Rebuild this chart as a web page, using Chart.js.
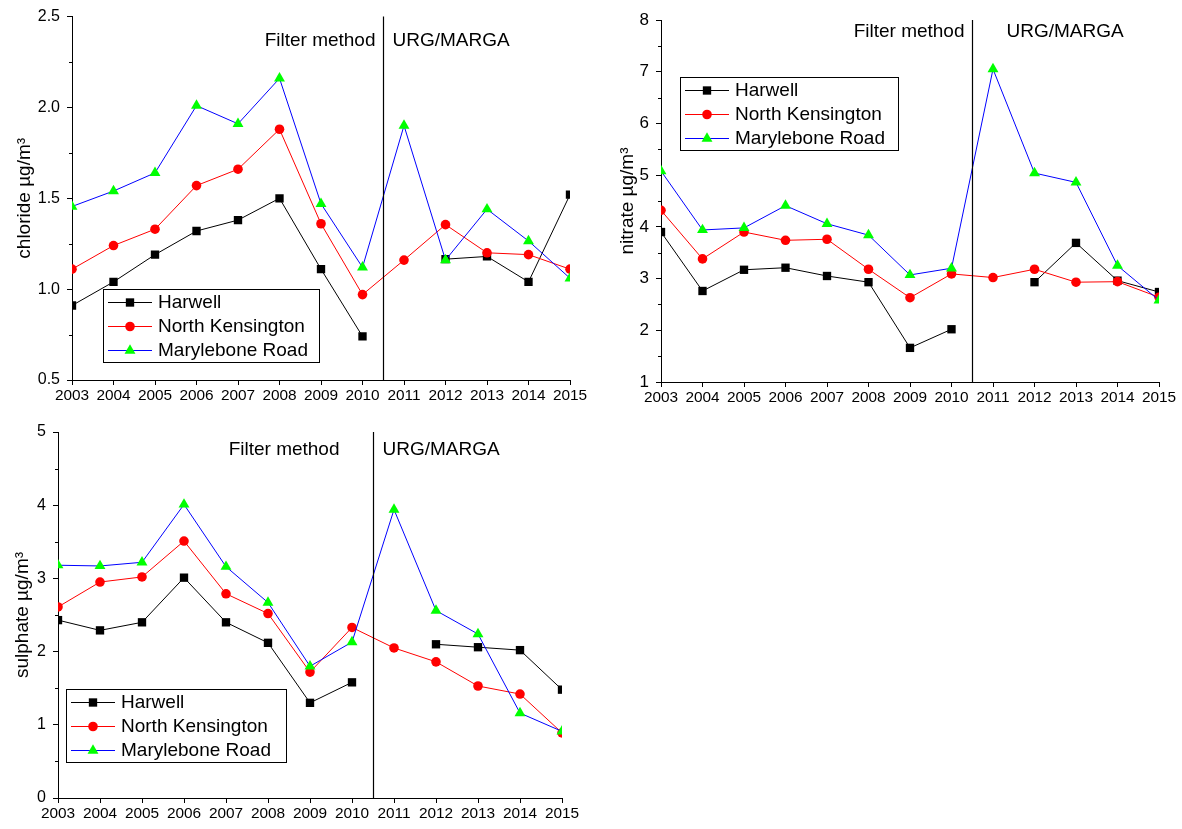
<!DOCTYPE html>
<html>
<head>
<meta charset="utf-8">
<script src="https://cdn.jsdelivr.net/npm/chart.js@4.4.1/dist/chart.umd.min.js"></script>
<style>
    body { margin: 0; background: #fff; width: 1182px; height: 829px; position: relative; overflow: hidden; }
    canvas { position: absolute; }
</style>
</head>
<body>
<canvas id="chloride-chart" width="600" height="410" style="left:0;top:0"></canvas>
<canvas id="nitrate-chart" width="582" height="410" style="left:600px;top:0"></canvas>
<canvas id="sulphate-chart" width="600" height="419" style="left:0;top:410px"></canvas>
<script>
// Anos e séries
const years = ['2003', '2004', '2005', '2006', '2007', '2008', '2009', '2010', '2011', '2012', '2013', '2014', '2015'];
const siteNames = ['Harwell', 'North Kensington', 'Marylebone Road'];
const splitIndex = 7.5; // troca de método entre 2010 e 2011

const chlorideHarwell = [0.91, 1.04, 1.19, 1.32, 1.38, 1.50, 1.11, 0.74, null, 1.165, 1.18, 1.04, 1.52];
const chlorideNK      = [1.11, 1.24, 1.33, 1.57, 1.66, 1.88, 1.36, 0.97, 1.16, 1.355, 1.20, 1.19, 1.11];
const chlorideMR      = [1.455, 1.54, 1.64, 2.01, 1.91, 2.16, 1.47, 1.12, 1.90, 1.16, 1.44, 1.265, 1.06];

const nitrateHarwell = [3.90, 2.76, 3.17, 3.21, 3.05, 2.93, 1.66, 2.02, null, 2.93, 3.69, 2.96, 2.74];
const nitrateNK      = [4.32, 3.38, 3.90, 3.74, 3.76, 3.18, 2.63, 3.09, 3.02, 3.18, 2.93, 2.94, 2.64];
const nitrateMR      = [5.08, 3.94, 3.98, 4.41, 4.06, 3.84, 3.07, 3.20, 7.05, 5.04, 4.86, 3.25, 2.58];

const sulphateHarwell = [2.43, 2.29, 2.40, 3.01, 2.40, 2.12, 1.30, 1.58, null, 2.10, 2.06, 2.02, 1.48];
const sulphateNK      = [2.61, 2.95, 3.02, 3.51, 2.79, 2.52, 1.72, 2.33, 2.05, 1.86, 1.53, 1.42, 0.89];
const sulphateMR      = [3.18, 3.17, 3.22, 4.01, 3.16, 2.67, 1.80, 2.13, 3.94, 2.56, 2.24, 1.16, 0.91];

const FONT = '"Liberation Sans", Arial, sans-serif';
Chart.defaults.font.family = FONT;
Chart.defaults.color = '#000';

// Desenha um marcador igual aos do Chart.js
function drawMarker(ctx, style, x, y, r, color) {
    ctx.fillStyle = color;
    ctx.beginPath();
    if (style === 'rect') {
        const s = r * Math.SQRT1_2;
        ctx.rect(x - s, y - s, 2 * s, 2 * s);
    } else if (style === 'triangle') {
        const dx = r * Math.sin(Math.PI / 3);
        ctx.moveTo(x, y - r);
        ctx.lineTo(x + dx, y + r / 2);
        ctx.lineTo(x - dx, y + r / 2);
        ctx.closePath();
    } else {
        ctx.arc(x, y, r, 0, Math.PI * 2);
    }
    ctx.fill();
}

// Linha vertical e rótulos dos métodos
function methodSplitPlugin(cfg) {
    return {
        id: 'methodSplit',
        afterDatasetsDraw(chart) {
            const { ctx, chartArea, scales } = chart;
            const x = Math.round(scales.x.getPixelForValue(splitIndex)) + 0.5;
            ctx.save();
            ctx.strokeStyle = '#000';
            ctx.lineWidth = 1.2;
            ctx.beginPath();
            ctx.moveTo(x, chartArea.top);
            ctx.lineTo(x, chartArea.bottom);
            ctx.stroke();
            ctx.font = '19px ' + FONT;
            ctx.fillStyle = '#000';
            ctx.textBaseline = 'middle';
            ctx.textAlign = 'right';
            ctx.fillText('Filter method', x - cfg.leftGap, cfg.textY);
            ctx.textAlign = 'left';
            ctx.fillText('URG/MARGA', x + cfg.rightGap, cfg.textY);
            ctx.restore();
        }
    };
}

// Legenda em caixa dentro da área do gráfico
function boxLegendPlugin(box) {
    return {
        id: 'boxLegend',
        afterDraw(chart) {
            const ctx = chart.ctx;
            ctx.save();
            ctx.fillStyle = '#fff';
            ctx.fillRect(box.left, box.top, box.width, box.height);
            ctx.strokeStyle = '#000';
            ctx.lineWidth = 1;
            ctx.strokeRect(box.left + 0.5, box.top + 0.5, box.width, box.height);
            chart.data.datasets.forEach((ds, i) => {
                const y = box.top + 13 + i * 24;
                const x0 = box.left + 5;
                const x1 = x0 + 44;
                ctx.strokeStyle = ds.borderColor;
                ctx.lineWidth = 1;
                ctx.beginPath();
                ctx.moveTo(x0, y + 0.5);
                ctx.lineTo(x1, y + 0.5);
                ctx.stroke();
                drawMarker(ctx, ds.pointStyle, (x0 + x1) / 2, y + 0.5, ds.pointRadius, ds.pointBackgroundColor);
                ctx.fillStyle = '#000';
                ctx.font = '19px ' + FONT;
                ctx.textAlign = 'left';
                ctx.textBaseline = 'middle';
                ctx.fillText(ds.label, box.left + 55, y + 1);
            });
            ctx.restore();
        }
    };
}

// Ticks menores no eixo y
const minorTicksPlugin = {
    id: 'minorTicks',
    afterDraw(chart) {
        const scale = chart.scales.y;
        const ctx = chart.ctx;
        ctx.save();
        ctx.strokeStyle = '#000';
        ctx.lineWidth = 1;
        for (let i = 0; i < scale.ticks.length - 1; i++) {
            const v = (scale.ticks[i].value + scale.ticks[i + 1].value) / 2;
            const y = Math.round(scale.getPixelForValue(v)) + 0.5;
            ctx.beginPath();
            ctx.moveTo(scale.right - 3, y);
            ctx.lineTo(scale.right, y);
            ctx.stroke();
        }
        ctx.restore();
    }
};

function makeDatasets(harwell, nk, mr) {
    const base = { borderWidth: 1, tension: 0, spanGaps: false, pointBorderWidth: 0, clip: 0 };
    return [
        Object.assign({}, base, { label: siteNames[0], data: harwell, borderColor: '#000000', pointStyle: 'rect', pointRadius: 5.9, pointBackgroundColor: '#000000', order: 3 }),
        Object.assign({}, base, { label: siteNames[1], data: nk, borderColor: '#ff0000', pointStyle: 'circle', pointRadius: 4.8, pointBackgroundColor: '#ff0000', order: 2 }),
        Object.assign({}, base, { label: siteNames[2], data: mr, borderColor: '#0000ff', pointStyle: 'triangle', pointRadius: 6.3, pointBackgroundColor: '#00ff00', order: 1 })
    ];
}

function renderPanel(id, opts) {
    const ctx = document.getElementById(id).getContext('2d');
    return new Chart(ctx, {
        type: 'line',
        data: {
            labels: years,
            datasets: makeDatasets(opts.harwell, opts.nk, opts.mr)
        },
        options: {
            responsive: false,
            animation: false,
            devicePixelRatio: 1,
            events: [],
            layout: { padding: { left: 0, top: opts.top, right: opts.right, bottom: 0 } },
            plugins: { legend: { display: false }, tooltip: { enabled: false } },
            scales: {
                x: {
                    grid: { drawOnChartArea: false, color: '#000', tickLength: 5 },
                    border: { color: '#000', width: 1 },
                    ticks: { font: { size: 15.4 }, color: '#000', autoSkip: false, maxRotation: 0, padding: 2 },
                    afterFit: (scale) => { scale.height = opts.xHeight; }
                },
                y: {
                    min: opts.yMin,
                    max: opts.yMax,
                    grid: { drawOnChartArea: false, color: '#000', tickLength: 5 },
                    border: { color: '#000', width: 1 },
                    ticks: {
                        stepSize: opts.step,
                        font: { size: opts.yFont },
                        color: '#000',
                        padding: 7,
                        callback: (v) => v.toFixed(opts.decimals)
                    },
                    title: {
                        display: true,
                        text: opts.title,
                        font: { size: 19 },
                        color: '#000',
                        padding: { top: opts.titlePad, bottom: 0 }
                    },
                    afterFit: (scale) => { scale.width = opts.yWidth; }
                }
            }
        },
        plugins: [minorTicksPlugin, methodSplitPlugin(opts.split), boxLegendPlugin(opts.legend)]
    });
}

renderPanel('chloride-chart', {
    harwell: chlorideHarwell, nk: chlorideNK, mr: chlorideMR,
    title: 'chloride µg/m³', yMin: 0.5, yMax: 2.5, step: 0.5, decimals: 1, yFont: 16,
    top: 16, right: 30, yWidth: 72, xHeight: 30, titlePad: 13.5,
    split: { leftGap: 8, rightGap: 9, textY: 41 },
    legend: { left: 103, top: 289, width: 216, height: 73 }
});

renderPanel('nitrate-chart', {
    harwell: nitrateHarwell, nk: nitrateNK, mr: nitrateMR,
    title: 'nitrate µg/m³', yMin: 1, yMax: 8, step: 1, decimals: 0, yFont: 17,
    top: 20, right: 23, yWidth: 61, xHeight: 28, titlePad: 16.5,
    split: { leftGap: 8, rightGap: 34, textY: 32 },
    legend: { left: 80, top: 77, width: 218, height: 73 }
});

renderPanel('sulphate-chart', {
    harwell: sulphateHarwell, nk: sulphateNK, mr: sulphateMR,
    title: 'sulphate µg/m³', yMin: 0, yMax: 5, step: 1, decimals: 0, yFont: 16,
    top: 22, right: 38, yWidth: 58, xHeight: 31, titlePad: 11.5,
    split: { leftGap: 34, rightGap: 9, textY: 40 },
    legend: { left: 66, top: 279, width: 220, height: 73 }
});
</script>
</body>
</html>
